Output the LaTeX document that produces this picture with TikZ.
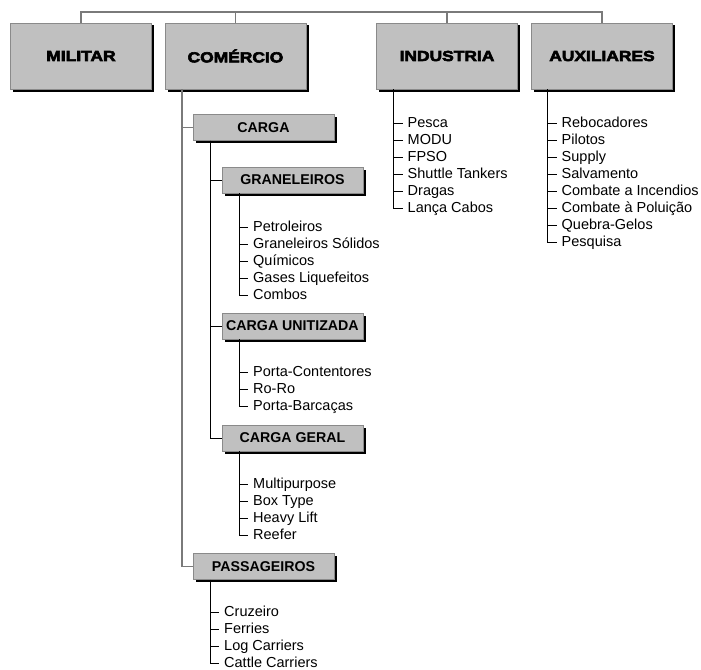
\documentclass[tikz,border=0pt]{standalone}
\usepackage{fontspec}
\setmainfont{Liberation Sans}
\newfontfamily\heavyfont[BoldFeatures={FakeBold=4,FakeStretch=1.2}]{Liberation Sans}
\definecolor{boxgray}{HTML}{C0C0C0}
\definecolor{boxedge}{HTML}{8A8A8A}
\definecolor{trunkgray}{HTML}{7A7A7A}
\usetikzlibrary{positioning,shadows}

\begin{document}
\begin{tikzpicture}[x=1pt, y=-1pt,
  topbox/.style={rectangle, draw=boxedge, fill=boxgray, minimum width=141pt, minimum height=66pt, inner sep=0pt, outer sep=0pt, general shadow={fill=black, shadow xshift=2.5pt, shadow yshift=-2.5pt}, font=\heavyfont\fontsize{14.5}{16}\selectfont\bfseries},
  subbox/.style={rectangle, draw=boxedge, fill=boxgray, minimum width=141pt, minimum height=26pt, inner sep=0pt, outer sep=0pt, general shadow={fill=black, shadow xshift=2.5pt, shadow yshift=-2.5pt}, font=\fontsize{14.2}{16}\selectfont\bfseries},
  item/.style={anchor=west, inner xsep=5pt, inner ysep=0pt, text height=10pt, text depth=2pt, font=\fontsize{14.5}{16}\selectfont},
  gline/.style={draw=trunkgray, line width=1.1pt},
  bline/.style={draw=black, line width=0.9pt}]
\useasboundingbox[fill=white] (0,0) rectangle (701,669);

\node[topbox] (mil) at (81,56) {MILITAR};
\node[topbox] (com) at (235.5,56) {COMÉRCIO};
\node[topbox] (ind) at (447,56) {INDUSTRIA};
\node[topbox] (aux) at (602,56) {AUXILIARES};
\coordinate (top) at ([yshift=11pt]mil.north);
\draw[gline] (mil.north) -- (top) -| (aux.north);
\draw[gline] (com.north) -- (com.north |- top);
\draw[gline] (ind.north) -- (ind.north |- top);

\node[subbox] (car) at (263.5,127.5) {CARGA};
\node[subbox] (gran) at (292.5,180) {GRANELEIROS};
\node[subbox] (unit) at (292.5,326) {CARGA UNITIZADA};
\node[subbox] (geral) at (292.5,438) {CARGA GERAL};
\node[subbox] (pas) at (263.5,566.5) {PASSAGEIROS};

\coordinate (comt) at ([xshift=17pt]com.south west);
\draw[gline] (comt) |- (car.west);
\draw[gline] (comt) |- (pas.west);
\coordinate (cart) at ([xshift=17pt]car.south west);
\draw[bline] (cart) |- (gran.west);
\draw[bline] (cart) |- (unit.west);
\draw[bline] (cart) |- (geral.west);

\coordinate (indt) at ([xshift=17pt]ind.south west);
\node[item, below right=34pt and 9pt of indt, anchor=west] (ind1) {Pesca};
\node[item, below=17pt of ind1.west, anchor=west] (ind2) {MODU};
\node[item, below=17pt of ind2.west, anchor=west] (ind3) {FPSO};
\node[item, below=17pt of ind3.west, anchor=west] (ind4) {Shuttle Tankers};
\node[item, below=17pt of ind4.west, anchor=west] (ind5) {Dragas};
\node[item, below=17pt of ind5.west, anchor=west] (ind6) {Lança Cabos};
\draw[bline] (indt) |- (ind6.west);
\draw[bline] (ind1.west -| indt) -- (ind1.west);
\draw[bline] (ind2.west -| indt) -- (ind2.west);
\draw[bline] (ind3.west -| indt) -- (ind3.west);
\draw[bline] (ind4.west -| indt) -- (ind4.west);
\draw[bline] (ind5.west -| indt) -- (ind5.west);

\coordinate (auxt) at ([xshift=16pt]aux.south west);
\node[item, below right=34pt and 9pt of auxt, anchor=west] (aux1) {Rebocadores};
\node[item, below=17pt of aux1.west, anchor=west] (aux2) {Pilotos};
\node[item, below=17pt of aux2.west, anchor=west] (aux3) {Supply};
\node[item, below=17pt of aux3.west, anchor=west] (aux4) {Salvamento};
\node[item, below=17pt of aux4.west, anchor=west] (aux5) {Combate a Incendios};
\node[item, below=17pt of aux5.west, anchor=west] (aux6) {Combate à Poluição};
\node[item, below=17pt of aux6.west, anchor=west] (aux7) {Quebra-Gelos};
\node[item, below=17pt of aux7.west, anchor=west] (aux8) {Pesquisa};
\draw[bline] (auxt) |- (aux8.west);
\draw[bline] (aux1.west -| auxt) -- (aux1.west);
\draw[bline] (aux2.west -| auxt) -- (aux2.west);
\draw[bline] (aux3.west -| auxt) -- (aux3.west);
\draw[bline] (aux4.west -| auxt) -- (aux4.west);
\draw[bline] (aux5.west -| auxt) -- (aux5.west);
\draw[bline] (aux6.west -| auxt) -- (aux6.west);
\draw[bline] (aux7.west -| auxt) -- (aux7.west);

\coordinate (grt) at ([xshift=17pt]gran.south west);
\node[item, below right=34pt and 9pt of grt, anchor=west] (gr1) {Petroleiros};
\node[item, below=17pt of gr1.west, anchor=west] (gr2) {Graneleiros Sólidos};
\node[item, below=17pt of gr2.west, anchor=west] (gr3) {Químicos};
\node[item, below=17pt of gr3.west, anchor=west] (gr4) {Gases Liquefeitos};
\node[item, below=17pt of gr4.west, anchor=west] (gr5) {Combos};
\draw[bline] (grt) |- (gr5.west);
\draw[bline] (gr1.west -| grt) -- (gr1.west);
\draw[bline] (gr2.west -| grt) -- (gr2.west);
\draw[bline] (gr3.west -| grt) -- (gr3.west);
\draw[bline] (gr4.west -| grt) -- (gr4.west);

\coordinate (unt) at ([xshift=17pt]unit.south west);
\node[item, below right=33pt and 9pt of unt, anchor=west] (un1) {Porta-Contentores};
\node[item, below=17pt of un1.west, anchor=west] (un2) {Ro-Ro};
\node[item, below=17pt of un2.west, anchor=west] (un3) {Porta-Barcaças};
\draw[bline] (unt) |- (un3.west);
\draw[bline] (un1.west -| unt) -- (un1.west);
\draw[bline] (un2.west -| unt) -- (un2.west);

\coordinate (get) at ([xshift=17pt]geral.south west);
\node[item, below right=33pt and 9pt of get, anchor=west] (ge1) {Multipurpose};
\node[item, below=17pt of ge1.west, anchor=west] (ge2) {Box Type};
\node[item, below=17pt of ge2.west, anchor=west] (ge3) {Heavy Lift};
\node[item, below=17pt of ge3.west, anchor=west] (ge4) {Reefer};
\draw[bline] (get) |- (ge4.west);
\draw[bline] (ge1.west -| get) -- (ge1.west);
\draw[bline] (ge2.west -| get) -- (ge2.west);
\draw[bline] (ge3.west -| get) -- (ge3.west);

\coordinate (pat) at ([xshift=17pt]pas.south west);
\node[item, below right=33pt and 9pt of pat, anchor=west] (pa1) {Cruzeiro};
\node[item, below=17pt of pa1.west, anchor=west] (pa2) {Ferries};
\node[item, below=17pt of pa2.west, anchor=west] (pa3) {Log Carriers};
\node[item, below=17pt of pa3.west, anchor=west] (pa4) {Cattle Carriers};
\draw[bline] (pat) |- (pa4.west);
\draw[bline] (pa1.west -| pat) -- (pa1.west);
\draw[bline] (pa2.west -| pat) -- (pa2.west);
\draw[bline] (pa3.west -| pat) -- (pa3.west);
\end{tikzpicture}
\end{document}
